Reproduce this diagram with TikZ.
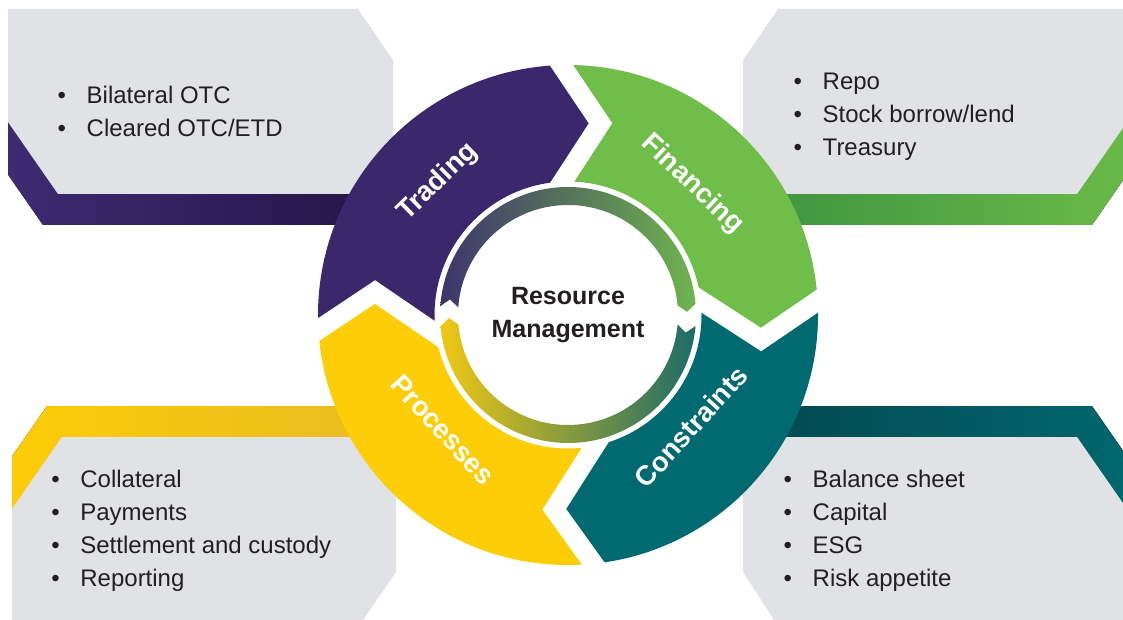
\documentclass[tikz,border=0pt]{standalone}
\usepackage{fontspec}
\setmainfont{Liberation Sans}
\usetikzlibrary{calc}

\definecolor{boxgray}{RGB}{225,226,230}
\definecolor{listgray}{RGB}{35,31,32}
\definecolor{tradepurple}{RGB}{59,39,108}
\definecolor{fingreen}{RGB}{112,190,74}
\definecolor{conteal}{RGB}{0,106,112}
\definecolor{procyellow}{RGB}{253,205,8}
% bands under the grey boxes
\definecolor{tradeleft}{RGB}{61,43,114}
\definecolor{traderight}{RGB}{38,20,74}
\definecolor{finleft}{RGB}{62,148,64}
\definecolor{finright}{RGB}{108,187,72}
\definecolor{procleft}{RGB}{252,204,6}
\definecolor{procright}{RGB}{232,188,34}
\definecolor{conleft}{RGB}{3,72,80}
\definecolor{conright}{RGB}{0,104,111}
% inner ring
\definecolor{ringpurple}{RGB}{62,52,108}
\definecolor{ringgreen}{RGB}{110,180,78}
\definecolor{ringyellow}{RGB}{240,200,20}
\definecolor{ringteal}{RGB}{28,108,104}

\tikzset{
    % white cut between two arms of the wheel
    seamline/.style={
           draw=white,
           line width=19.5pt,
           line join=miter,
           miter limit=10},
}
\newcommand{\wheelout}{250}
\newcommand{\wheelin}{133.5}
\newcommand{\bitem}{\makebox[29pt][l]{\textbullet}}

\begin{document}
\begin{tikzpicture}[x=1pt, y=1pt]
\tikzstyle{listtext}=[anchor=base west, inner sep=0pt, text=listgray,
                   font=\fontsize{24}{33}\selectfont]
\tikzstyle{armlabel}=[text=white, inner sep=0pt, font=\fontsize{27.5}{30}\selectfont\bfseries]
\tikzstyle{centertext}=[anchor=base, inner sep=0pt, text=listgray,
                   font=\fontsize{25}{30}\selectfont\bfseries]

\useasboundingbox (0,0) rectangle (1123,619);
\clip (0,0) rectangle (1123,619);

%%%%%%%%%%%%%%%%%%%%%%%%%%%%%%%%%
% Boxes and coloured bands
%%%%%%%%%%%%%%%%%%%%%%%%%%%%%%%%%
\fill[left color=tradeleft, right color=traderight]
    (8,579) -- (343,579) -- (378,528) -- (378,445) -- (343,394) -- (43,394) -- (8,444.4) -- cycle;
\fill[boxgray]
    (8,610) -- (358,610) -- (393,559) -- (393,476) -- (358,425) -- (58,425) -- (8,497) -- cycle;

\fill[left color=finleft, right color=finright]
    (793,579) -- (1142,579) -- (1142,466) -- (1092,394) -- (793,394) -- (758,445) -- (758,528) -- cycle;
\fill[boxgray]
    (778,610) -- (1127,610) -- (1127,497) -- (1077,425) -- (778,425) -- (743,476) -- (743,559) -- cycle;

\fill[left color=procleft, right color=procright]
    (47,213) -- (346,213) -- (381,162) -- (381,78) -- (346,27) -- (12,27) -- (12,162.6) -- cycle;
\fill[boxgray]
    (62,182) -- (361,182) -- (396,131) -- (396,47) -- (361,-4) -- (12,-4) -- (12,110) -- cycle;

\fill[left color=conleft, right color=conright]
    (793,213) -- (1092,213) -- (1142,141) -- (1142,27) -- (791,27) -- (758,78) -- (758,162) -- cycle;
\fill[boxgray]
    (778,182) -- (1077,182) -- (1127,110) -- (1127,-4) -- (776,-4) -- (743,47) -- (743,131) -- cycle;

%%%%%%%%%%%%%%%%%%%%%%%%%%%%%%%%%
% Wheel
%%%%%%%%%%%%%%%%%%%%%%%%%%%%%%%%%
\coordinate (ctr) at (568,304);
\coordinate (seamLi) at (435,286);
\coordinate (seamLv) at (375,327);
\coordinate (seamLo) at (318,289);
\coordinate (seamTi) at (562,436.5);
\coordinate (seamTv) at (600.5,495.7);
\coordinate (seamTo) at (562,553);
\coordinate (seamRi) at (700,319);
\coordinate (seamRv) at (761,279.5);
\coordinate (seamRo) at (817.5,318);
\coordinate (seamBi) at (594,172);
\coordinate (seamBv) at (554.3,109.7);
\coordinate (seamBo) at (592.5,56.5);

% Trading
\begin{scope}
\clip (ctr) -- (seamLi) -- (seamLv) -- ($(seamLv)!1.6!(seamLo)$) -- (0,619)
      -- ($(seamTv)!1.6!(seamTo)$) -- (seamTv) -- (seamTi) -- cycle;
\fill[tradepurple, even odd rule] (ctr) circle[radius=\wheelout] (ctr) circle[radius=\wheelin];
\end{scope}
% Financing
\begin{scope}
\clip (ctr) -- (seamTi) -- (seamTv) -- ($(seamTv)!1.6!(seamTo)$) -- (1123,619)
      -- ($(seamRv)!1.6!(seamRo)$) -- (seamRv) -- (seamRi) -- cycle;
\fill[fingreen, even odd rule] (ctr) circle[radius=\wheelout] (ctr) circle[radius=\wheelin];
\end{scope}
% Constraints
\begin{scope}
\clip (ctr) -- (seamRi) -- (seamRv) -- ($(seamRv)!1.6!(seamRo)$) -- (1123,0)
      -- ($(seamBv)!1.6!(seamBo)$) -- (seamBv) -- (seamBi) -- cycle;
\fill[conteal, even odd rule] (ctr) circle[radius=\wheelout] (ctr) circle[radius=\wheelin];
\end{scope}
% Processes
\begin{scope}
\clip (ctr) -- (seamBi) -- (seamBv) -- ($(seamBv)!1.6!(seamBo)$) -- (0,0)
      -- ($(seamLv)!1.6!(seamLo)$) -- (seamLv) -- (seamLi) -- cycle;
\fill[procyellow, even odd rule] (ctr) circle[radius=\wheelout] (ctr) circle[radius=\wheelin];
\end{scope}

\draw[seamline] ($(seamLv)!1.2!(seamLi)$) -- (seamLv) -- ($(seamLv)!1.2!(seamLo)$);
\draw[seamline] ($(seamTv)!1.2!(seamTi)$) -- (seamTv) -- ($(seamTv)!1.2!(seamTo)$);
\draw[seamline] ($(seamRv)!1.2!(seamRi)$) -- (seamRv) -- ($(seamRv)!1.2!(seamRo)$);
\draw[seamline] ($(seamBv)!1.2!(seamBi)$) -- (seamBv) -- ($(seamBv)!1.2!(seamBo)$);

% inner ring, two thin arrows
\shade[left color=ringpurple, right color=ringgreen]
    ($(ctr)+(176:128)$) arc[start angle=176, end angle=5, radius=128]
    -- ($(ctr)+(1.5:119)$) -- ($(ctr)+(5:110)$)
    arc[start angle=5, end angle=176, radius=110]
    -- ($(ctr)+(172.5:119)$) -- cycle;
\shade[left color=ringyellow, right color=ringteal]
    ($(ctr)+(-5:128)$) arc[start angle=-5, end angle=-175, radius=128]
    -- ($(ctr)+(-178.5:119)$) -- ($(ctr)+(-175:110)$)
    arc[start angle=-175, end angle=-5, radius=110]
    -- ($(ctr)+(-8.5:119)$) -- cycle;

%%%%%%%%%%%%%%%%%%%%%%%%%%%%%%%%%
% Text
%%%%%%%%%%%%%%%%%%%%%%%%%%%%%%%%%
\node[armlabel, rotate=44.4]  (trading)     at ($(ctr)+(134.4:186)$) {Trading};
\node[armlabel, rotate=-43.6] (financing)   at ($(ctr)+(46.4:180)$) {Financing};
\node[armlabel, rotate=47.7]  (constraints) at ($(ctr)+(-42.3:166)$) {Constraints};
\node[armlabel, rotate=-47.4] (processes)   at ($(ctr)+(-137.4:170)$) {Processes};

\node[centertext] (resource)   at (568,314) {Resource};
\node[centertext] (management) at (568,282) {Management};

\node[listtext] (bilateral) at (57.5,515) {\bitem Bilateral OTC};
\node[listtext] (cleared)   at (57.5,482) {\bitem Cleared OTC/ETD};

\node[listtext] (repo)     at (793.5,529.7) {\bitem Repo};
\node[listtext] (stock)    at (793.5,496.7) {\bitem Stock borrow/lend};
\node[listtext] (treasury) at (793.5,463.7) {\bitem Treasury};

\node[listtext] (collateral) at (51.2,131.5) {\bitem Collateral};
\node[listtext] (payments)   at (51.2,98.5)  {\bitem Payments};
\node[listtext] (settlement) at (51.2,65.5)  {\bitem Settlement and custody};
\node[listtext] (reporting)  at (51.2,32.5)  {\bitem Reporting};

\node[listtext] (balance) at (783.5,131.5) {\bitem Balance sheet};
\node[listtext] (capital) at (783.5,98.5)  {\bitem Capital};
\node[listtext] (esg)     at (783.5,65.5)  {\bitem ESG};
\node[listtext] (risk)    at (783.5,32.5)  {\bitem Risk appetite};

\end{tikzpicture}
\end{document}
